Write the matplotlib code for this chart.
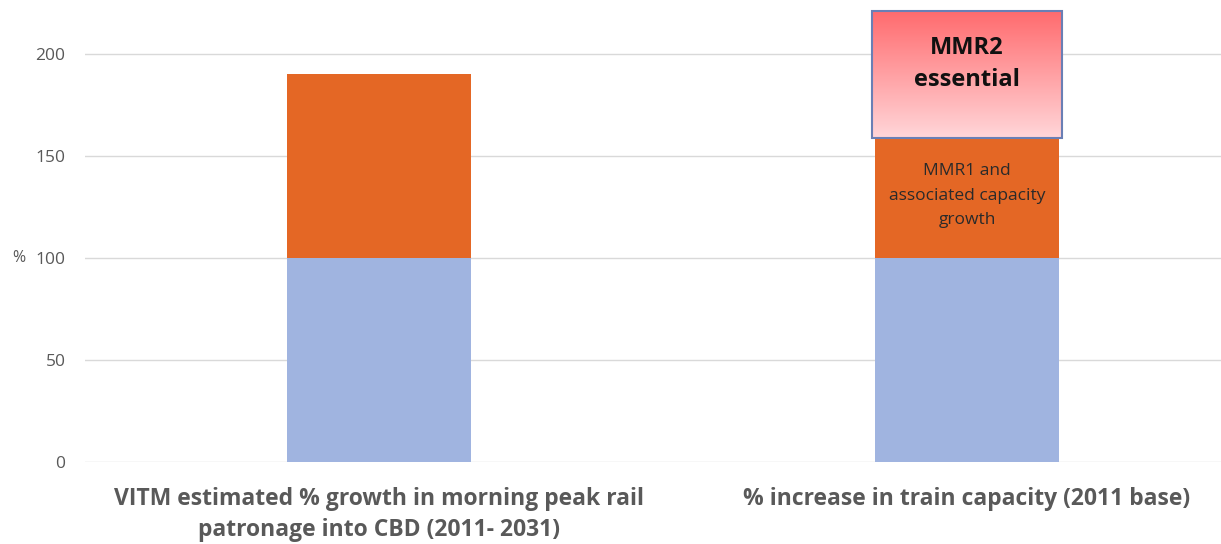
import numpy as np
import matplotlib.pyplot as plt
from matplotlib.colors import LinearSegmentedColormap

# data
categories = ['VITM estimated % growth in morning peak rail\npatronage into CBD (2011- 2031)',
              '% increase in train capacity (2011 base)']
base = [100, 100]
growth = [90, 60]
mmr2 = [0, 62]
yticks = [0, 50, 100, 150, 200]

plt.rcParams['font.family'] = ['Open Sans', 'DejaVu Sans']

fig = plt.figure(figsize=(12.21, 5.44), dpi=100)
ax = fig.add_axes([85 / 1221, (544 - 462) / 544, 1 - 85 / 1221, 462 / 544])

x = np.arange(len(categories))
w = 0.313

ax.bar(x, base, width=w, color='#A0B4E0', zorder=2)
ax.bar(x, growth, width=w, bottom=base, color='#E46725', zorder=2)

# gradient box for MMR2 on the second bar
i = 1
bot = base[i] + growth[i] - 1
top = bot + mmr2[i]
bw = 0.322
cmap = LinearSegmentedColormap.from_list('mmr2', ['#FFD6D9', '#FF6B6E'])
grad = np.linspace(0, 1, 256).reshape(-1, 1)
ax.imshow(grad, extent=(x[i] - bw / 2, x[i] + bw / 2, bot, top), origin='lower',
          cmap=cmap, aspect='auto', zorder=3)
ax.bar(x[i], mmr2[i], width=bw, bottom=bot, facecolor='none',
       edgecolor='#6A7FB5', linewidth=1.5, zorder=4)

ax.text(x[i], bot + mmr2[i] * 0.58, 'MMR2\nessential', ha='center', va='center',
        fontsize=17, fontweight='bold', color='#111111', linespacing=1.45, zorder=5)
ax.text(x[i], base[i] + growth[i] / 2 + 0.5, 'MMR1 and\nassociated capacity\ngrowth',
        ha='center', va='center', fontsize=12.5, color='#2a2a2a', linespacing=1.72, zorder=5)

ax.set_xlim(-0.5, 1.432)
ax.set_ylim(0, 226.5)
ax.set_yticks(yticks)
ax.set_yticklabels([str(v) for v in yticks])
ax.grid(axis='y', color='#D9D9D9', linewidth=1, zorder=0)
ax.set_axisbelow(True)
for s in ax.spines.values():
    s.set_visible(False)
ax.tick_params(axis='y', length=0, pad=14, labelsize=12.5, labelcolor='#595959')
ax.tick_params(axis='x', length=0, pad=18)
ax.set_xticks(x)
ax.set_xticklabels(categories, fontsize=16.5, fontweight='bold', color='#595959',
                   linespacing=1.4)
ax.set_ylabel('%', rotation=0, fontsize=11.5, color='#595959')
ax.yaxis.set_label_coords(-0.058, 100 / 226.5)
ax.yaxis.label.set_va('center')

fig.savefig('out.png', dpi=100)
